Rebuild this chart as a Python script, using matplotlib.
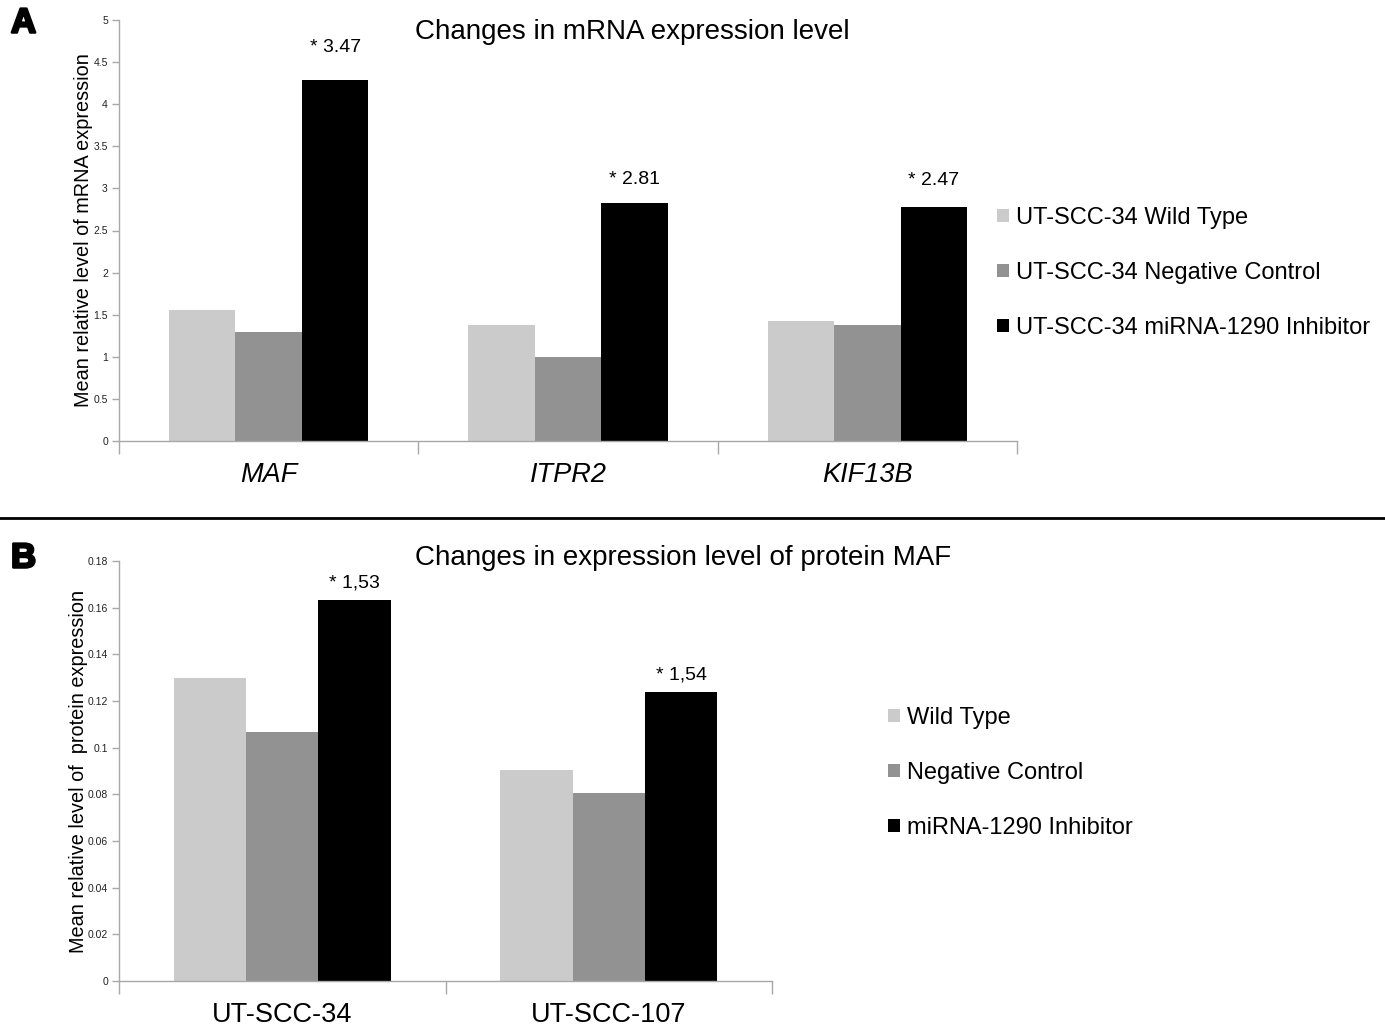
import matplotlib.pyplot as plt
import matplotlib.patheffects as pe
import numpy as np

plt.rcParams['font.family'] = ['Liberation Sans', 'DejaVu Sans']

# panel A: mRNA
genes = ["MAF", "ITPR2", "KIF13B"]
mrna_series = ["UT-SCC-34 Wild Type", "UT-SCC-34 Negative Control",
               "UT-SCC-34 miRNA-1290 Inhibitor"]
mrna_wt = [1.56, 1.38, 1.42]
mrna_nc = [1.29, 1.00, 1.38]
mrna_inh = [4.29, 2.83, 2.78]
mrna_fold = ["* 3.47", "* 2.81", "* 2.47"]

# panel B: protein MAF
cell_lines = ["UT-SCC-34", "UT-SCC-107"]
prot_series = ["Wild Type", "Negative Control", "miRNA-1290 Inhibitor"]
prot_wt = [0.130, 0.0904]
prot_nc = [0.1067, 0.0806]
prot_inh = [0.1633, 0.1239]
prot_fold = ["* 1,53", "* 1,54"]

colors = ["#cbcbcb", "#929292", "#000000"]
spine_col = "#a8a8a8"
W = 1385
H = 1029


def bar_panel(ax, cats, series, labels, fold, ymax, ystep, italic, ann_off):
    x = np.arange(len(cats))
    bw = 0.222
    bars = []
    for i, (vals, lab) in enumerate(zip(series, labels)):
        b = ax.bar(x + (i - 1) * bw, vals, bw, color=colors[i], label=lab,
                   linewidth=0)
        bars.append(b)
    for j, rect in enumerate(bars[2]):
        ax.annotate(fold[j], (rect.get_x() + rect.get_width() / 2, rect.get_height()),
                    xytext=(0, ann_off[j]), textcoords="offset pixels",
                    ha="center", va="bottom", fontsize=14)
    ax.set_xlim(-0.5, len(cats) - 0.5)
    ax.set_ylim(0, ymax)
    ax.set_yticks(np.arange(0, ymax + ystep / 2, ystep))
    ax.yaxis.set_major_formatter(plt.FuncFormatter(lambda v, p: f"{v:g}"))
    ax.set_xticks(np.arange(-0.5, len(cats), 1.0))
    ax.set_xticklabels([])
    ax.set_xticks(x, minor=True)
    ax.set_xticklabels(cats, minor=True, fontsize=19.5,
                       style="italic" if italic else "normal")
    ax.tick_params(axis="x", which="major", length=9, color=spine_col, width=1)
    ax.tick_params(axis="x", which="minor", length=0, pad=15)
    ax.tick_params(axis="y", length=5, color=spine_col, width=1, labelsize=7.5,
                   labelcolor="#222222", pad=3)
    for s in ["top", "right"]:
        ax.spines[s].set_visible(False)
    for s in ["left", "bottom"]:
        ax.spines[s].set_color(spine_col)
        ax.spines[s].set_linewidth(1)


fig = plt.figure(figsize=(W / 100, H / 100), dpi=100)

axA = fig.add_axes([119 / W, 1 - 441 / H, (1017 - 119) / W, (441 - 20) / H])
bar_panel(axA, genes, [mrna_wt, mrna_nc, mrna_inh], mrna_series, mrna_fold,
          5, 0.5, True, [24, 15, 18])
axA.set_ylabel("Mean relative level of mRNA expression", fontsize=14.3, labelpad=0)

axB = fig.add_axes([119 / W, 1 - 981 / H, (772 - 119) / W, (981 - 561) / H])
bar_panel(axB, cell_lines, [prot_wt, prot_nc, prot_inh], prot_series, prot_fold,
          0.18, 0.02, False, [8, 8])
axB.set_ylabel("Mean relative level of  protein expression", fontsize=14.3, labelpad=0)

fig.text(632 / W, 1 - 32 / H, "Changes in mRNA expression level",
         ha="center", va="center", fontsize=20)
fig.text(683 / W, 1 - 558 / H, "Changes in expression level of protein MAF",
         ha="center", va="center", fontsize=20)

letter_fx = [pe.withStroke(linewidth=1.8, foreground="black")]
fig.text(11 / W, 1 - 23 / H, "A", fontsize=25, fontweight="bold",
         ha="left", va="center", path_effects=letter_fx)
fig.text(11 / W, 1 - 558 / H, "B", fontsize=25, fontweight="bold",
         ha="left", va="center", path_effects=letter_fx)

fig.add_artist(plt.Line2D([0, 1], [1 - 518 / H, 1 - 518 / H], color="black",
                          linewidth=2, transform=fig.transFigure))

leg_kw = dict(frameon=False, fontsize=17, handlelength=0.5, handleheight=0.5,
              handletextpad=0.3, labelspacing=1.4, borderpad=0, borderaxespad=0,
              loc="center left")
h, l = axA.get_legend_handles_labels()
fig.legend(h, l, bbox_to_anchor=(997 / W, 1 - 273 / H), **leg_kw)
h, l = axB.get_legend_handles_labels()
fig.legend(h, l, bbox_to_anchor=(888 / W, 1 - 773 / H), **leg_kw)

fig.savefig("out.png", dpi=100)
